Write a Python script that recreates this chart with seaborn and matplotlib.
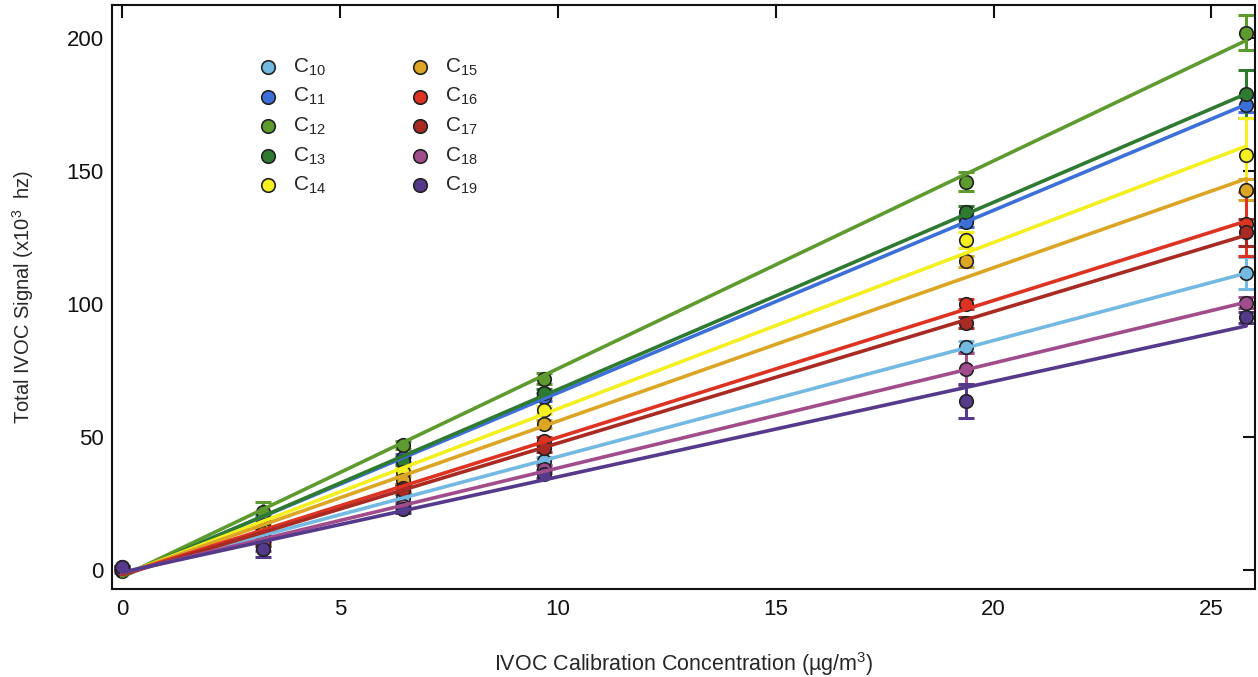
import numpy as np
import pandas as pd
import matplotlib
matplotlib.use("Agg")
import matplotlib.pyplot as plt
import seaborn as sns

# ---- data ----
conc = [0.0, 3.23, 6.45, 9.68, 19.36, 25.8]
compounds = ["C10", "C11", "C12", "C13", "C14", "C15", "C16", "C17", "C18", "C19"]
sub_labels = ["10", "11", "12", "13", "14", "15", "16", "17", "18", "19"]
colors = ["#74b9e2", "#3d6fd9", "#5e9b2f", "#2f7a31", "#f4ef1f",
          "#dca624", "#de3222", "#a82a22", "#a14d8c", "#553a8c"]

sig_C10 = [0.0, 12.0, 27.0, 41.0, 84.0, 111.5]
sig_C11 = [-0.5, 18.0, 42.0, 65.0, 131.0, 175.0]
sig_C12 = [0.5, 22.0, 47.0, 72.0, 146.0, 202.0]
sig_C13 = [1.0, 17.0, 41.0, 66.5, 134.5, 179.0]
sig_C14 = [0.0, 15.0, 37.0, 60.0, 124.0, 156.0]
sig_C15 = [0.0, 14.0, 34.0, 55.0, 116.0, 143.0]
sig_C16 = [0.0, 13.0, 31.0, 48.5, 100.0, 130.0]
sig_C17 = [0.5, 12.0, 30.0, 46.0, 93.0, 127.0]
sig_C18 = [0.0, 10.0, 24.0, 38.0, 75.5, 100.5]
sig_C19 = [1.0, 8.0, 23.0, 36.0, 63.5, 95.0]

err_C10 = [0.5, 3.0, 1.5, 1.5, 2.0, 6.0]
err_C11 = [0.5, 3.0, 1.5, 1.5, 2.0, 3.0]
err_C12 = [0.5, 3.5, 1.5, 2.0, 3.5, 6.5]
err_C13 = [0.5, 3.0, 1.5, 1.5, 2.5, 9.0]
err_C14 = [0.5, 3.0, 1.5, 1.5, 3.0, 14.0]
err_C15 = [0.5, 3.0, 1.5, 1.5, 2.0, 4.0]
err_C16 = [0.5, 3.0, 1.5, 1.5, 2.0, 12.0]
err_C17 = [0.5, 3.0, 1.5, 1.5, 2.0, 5.0]
err_C18 = [0.5, 3.0, 1.5, 1.5, 6.0, 2.0]
err_C19 = [0.5, 3.0, 1.5, 1.5, 6.5, 2.0]

signals = [sig_C10, sig_C11, sig_C12, sig_C13, sig_C14,
           sig_C15, sig_C16, sig_C17, sig_C18, sig_C19]
errors = [err_C10, err_C11, err_C12, err_C13, err_C14,
          err_C15, err_C16, err_C17, err_C18, err_C19]

x_ticks = [0, 5, 10, 15, 20, 25]
y_ticks = [0, 50, 100, 150, 200]

# ---- style ----
sns.set_theme(style="white")
plt.rcParams["font.family"] = ["Liberation Sans", "DejaVu Sans"]
plt.rcParams["mathtext.fontset"] = "custom"
plt.rcParams["mathtext.rm"] = "Liberation Sans"
plt.rcParams["mathtext.it"] = "Liberation Sans:italic"
plt.rcParams["mathtext.bf"] = "Liberation Sans:bold"

fig = plt.figure(figsize=(12.58, 6.77), dpi=100)
ax = fig.add_axes([0.089, 0.130, 0.9086, 0.8626])

rows = []
for name, s, e in zip(compounds, signals, errors):
    for xv, yv, ev in zip(conc, s, e):
        rows.append({"compound": name, "conc": xv, "signal": yv, "err": ev})
df = pd.DataFrame(rows)

handles = []
for name, sub, col in zip(compounds, sub_labels, colors):
    d = df[df["compound"] == name]
    ax.errorbar(d["conc"], d["signal"], yerr=d["err"], fmt="none",
                ecolor=col, elinewidth=2.2, capsize=6, capthick=2.2, zorder=2)
    sc = ax.scatter(d["conc"], d["signal"], s=95, color=col,
                    edgecolor="#222222", linewidth=1.2, zorder=3,
                    label="C$_{\\mathregular{%s}}$" % sub)
    handles.append(sc)

for name, col in zip(compounds, colors):
    d = df[df["compound"] == name]
    sns.regplot(data=d, x="conc", y="signal", ax=ax, scatter=False, ci=None,
                color=col, line_kws={"linewidth": 2.6, "zorder": 4})

ax.set_xlim(-0.23, 26.0)
ax.set_ylim(-7.1, 212.4)
ax.set_xticks(x_ticks)
ax.set_yticks(y_ticks)
ax.tick_params(axis="both", which="both", direction="in", length=9, width=1.5,
               top=True, right=True, labeltop=False, labelright=False,
               labelsize=16, pad=6, colors="#111111")
ax.tick_params(axis="x", pad=7)
for sp in ax.spines.values():
    sp.set_visible(True)
    sp.set_color("#111111")
    sp.set_linewidth(1.5)

ax.set_xlabel("IVOC Calibration Concentration (\u00b5g/m$^{3}$)", fontsize=15.5, labelpad=22)
ax.set_ylabel("Total IVOC Signal (x10$^{3}$  hz)", fontsize=14.5, labelpad=22)

ax.legend(handles=handles, ncol=2, loc="upper left",
          bbox_to_anchor=(0.1274, 0.912), frameon=False, fontsize=15,
          handlelength=1.0, handletextpad=0.7, columnspacing=4.0,
          labelspacing=0.40, borderpad=0, borderaxespad=0, scatterpoints=1)

fig.savefig("out.png", dpi=100)
